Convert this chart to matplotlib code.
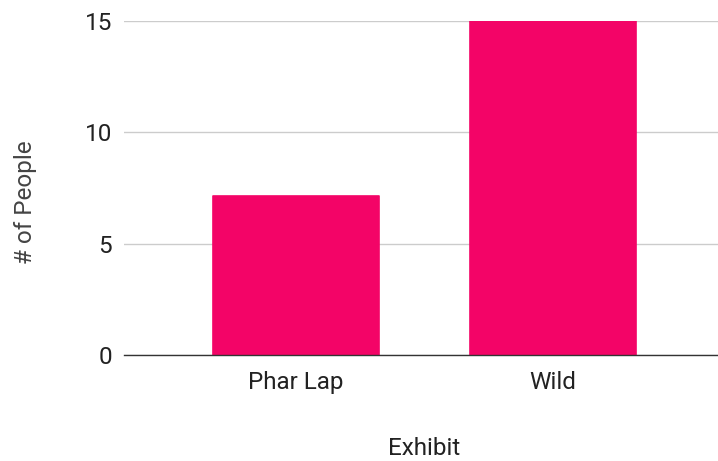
import matplotlib
matplotlib.use("Agg")
import matplotlib.pyplot as plt

categories = ["Phar Lap", "Wild"]
people = [7.15, 15]
y_ticks = [0, 5, 10, 15]

plt.rcParams['font.family'] = ['Roboto', 'DejaVu Sans']

fig = plt.figure(figsize=(7.18, 4.61), dpi=100)
ax = fig.add_axes([0.1727, 0.2299, 0.8273, 0.7252])

x = list(range(len(categories)))
ax.bar(x, people, width=0.646, color="#F30467", edgecolor="#F30467",
       linewidth=1.2, joinstyle="round", zorder=3)

ax.set_xlim(-0.669, 1.642)
ax.set_ylim(0, 15)
ax.set_yticks(y_ticks)
ax.set_yticklabels([str(t) for t in y_ticks])
ax.set_xticks(x)
ax.set_xticklabels(categories)

ax.grid(axis="y", color="#cccccc", linewidth=1, zorder=0)
for s in ["top", "right", "left"]:
    ax.spines[s].set_visible(False)
ax.spines["bottom"].set_color("#333333")
ax.spines["bottom"].set_linewidth(1)
ax.spines["bottom"].set_zorder(4)

fs = 17.5
ax.tick_params(axis="both", length=0, labelsize=fs, colors="#222222")
ax.tick_params(axis="y", pad=8.5)
ax.tick_params(axis="x", pad=11.5)

ax.set_xlabel("Exhibit", fontsize=fs, color="#222222")
ax.set_ylabel("# of People", fontsize=fs, color="#444444")
ax.xaxis.set_label_coords(0.505, -0.245)
ax.yaxis.set_label_coords(-0.147, 0.456)

fig.savefig("out.png", dpi=100)
